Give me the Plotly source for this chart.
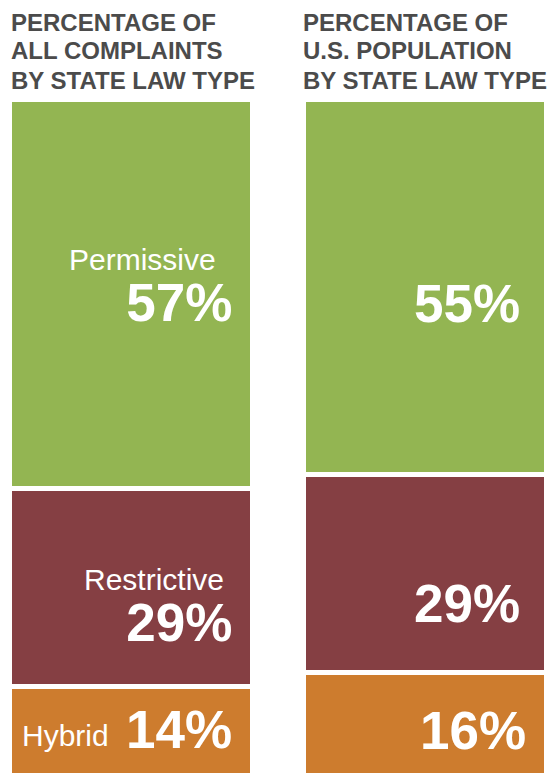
import plotly.graph_objects as go

# ---- data ----
panel_titles = [
    ["PERCENTAGE OF", "ALL COMPLAINTS", "BY STATE LAW TYPE"],
    ["PERCENTAGE OF", "U.S. POPULATION", "BY STATE LAW TYPE"],
]
categories = ["Hybrid", "Restrictive", "Permissive"]          # bottom -> top
pct_complaints = [14, 29, 57]
pct_population = [16, 29, 55]
colors = ["#cd7c2e", "#853f43", "#93b552"]

# ---- layout constants (page body has an 8px margin) ----
W, H = 547, 765
BAR_W = 0.826
X_RANGE = [-0.418, 1.441]
Y_RANGE = [1.32, 100.66]
TOP = 87

FONT = "Liberation Sans, Arial, Helvetica, sans-serif"
NAME_SIZE, VAL_SIZE = 30, 53

fig = go.Figure()
for i, cat in enumerate(categories):
    fig.add_trace(go.Bar(
        x=[0, 1],
        y=[pct_complaints[i], pct_population[i]],
        width=BAR_W,
        name=cat,
        marker=dict(color=colors[i], line=dict(color="white", width=5)),
        hoverinfo="skip",
    ))

annotations = []
# panel titles
title_x_px = [1, 293]
title_y_px = [14, 43, 72]
for p, lines in enumerate(panel_titles):
    for k, line in enumerate(lines):
        annotations.append(dict(
            xref="paper", yref="paper",
            x=title_x_px[p] / W, y=1 + (TOP - title_y_px[k]) / (H - TOP),
            xanchor="left", yanchor="middle", showarrow=False,
            text=f"<b>{line}</b>",
            font=dict(family=FONT, size=24, color="#4b4b4b"),
        ))

series = [pct_complaints, pct_population]
val_inset = [[16, 16, 16], [16, 22, 22]]
val_off = [[46.5, 136, 205], [60.7, 131.6, 207]]
# left panel: Hybrid name sits inline; others sit on a line above the value
block_off = [None, 118.5, 188]
name_pad = ["", "&nbsp;", "&nbsp;&nbsp;"]

def val_html(v):
    return f"<b><span style='font-size:{VAL_SIZE}px'>{v}%</span></b>"

for p in range(2):
    cum = 0
    for i, cat in enumerate(categories):
        top = cum + series[p][i]
        cum = top
        x_edge = p + BAR_W / 2
        if p == 0 and block_off[i] is not None:
            text = (f"<span style='font-size:{NAME_SIZE}px'>{cat}{name_pad[i]}</span>"
                    f"<br>{val_html(series[p][i])}")
            annotations.append(dict(
                xref="x", yref="y", x=x_edge, y=top,
                xanchor="right", yanchor="middle", align="right", showarrow=False,
                xshift=-(val_inset[p][i] + 2.5), yshift=-block_off[i],
                text=text,
                font=dict(family=FONT, size=39, color="white"),
            ))
            continue
        annotations.append(dict(
            xref="x", yref="y", x=x_edge, y=top,
            xanchor="right", yanchor="middle", showarrow=False,
            xshift=-(val_inset[p][i] + 2.5), yshift=-(val_off[p][i] - 3),
            text=val_html(series[p][i]),
            font=dict(family=FONT, size=VAL_SIZE, color="white"),
        ))
        if p == 0:
            annotations.append(dict(
                xref="x", yref="y", x=x_edge, y=top,
                xanchor="right", yanchor="middle", showarrow=False,
                xshift=(110 - 250) - 1.5, yshift=-49.5,
                text=cat,
                font=dict(family=FONT, size=NAME_SIZE, color="white"),
            ))

fig.update_layout(
    width=W, height=H,
    barmode="stack",
    showlegend=False,
    margin=dict(l=0, r=0, t=TOP, b=0, pad=0),
    paper_bgcolor="white", plot_bgcolor="white",
    xaxis=dict(range=X_RANGE, visible=False, fixedrange=True),
    yaxis=dict(range=Y_RANGE, visible=False, fixedrange=True),
    annotations=annotations,
)

fig.write_html("out.html")
